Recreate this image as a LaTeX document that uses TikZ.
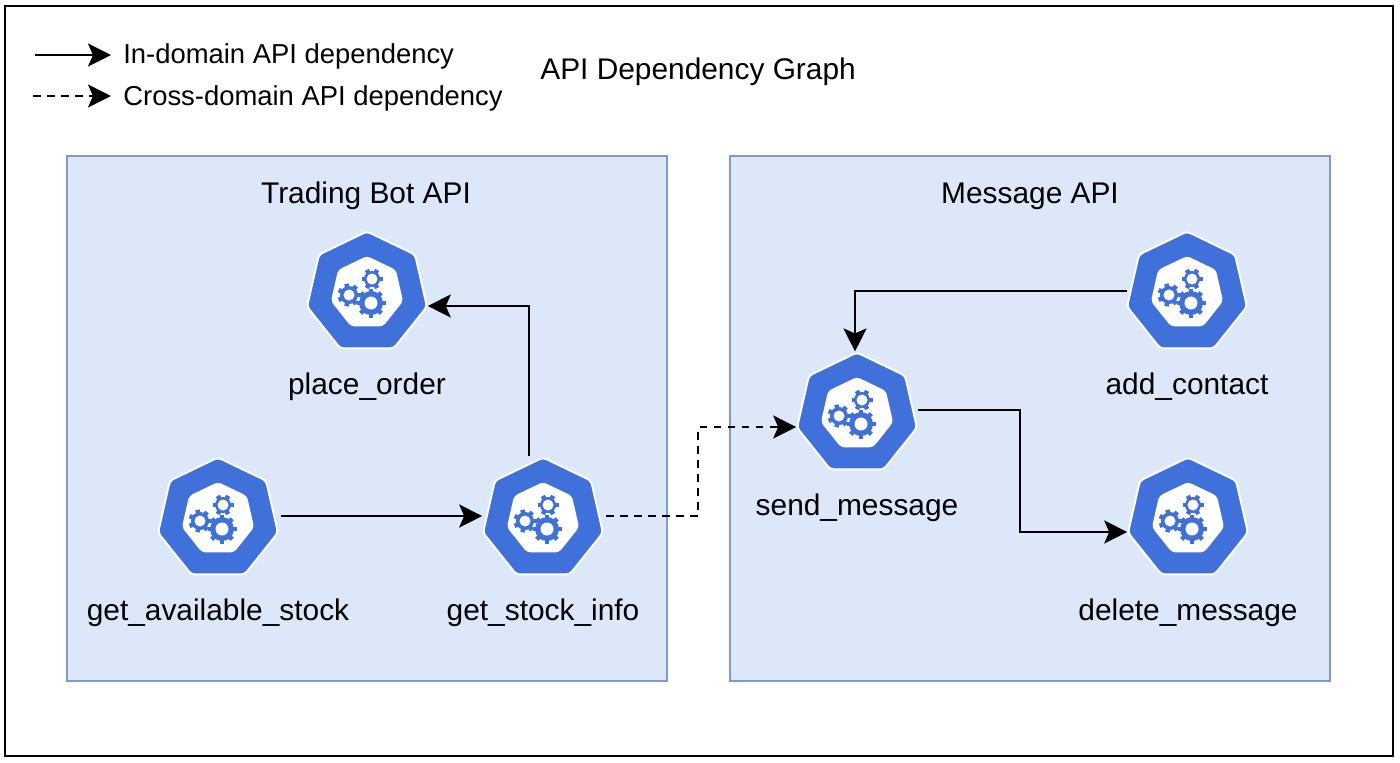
\documentclass[tikz,border=0pt]{standalone}
\usepackage{fontspec}
\setmainfont{Liberation Sans}
\usepackage{xcolor}
\usetikzlibrary{arrows.meta,calc,shapes.geometric}
\definecolor{apiblue}{HTML}{4070DA}
\definecolor{groupfill}{HTML}{DCE7F9}
\definecolor{groupline}{HTML}{7F9AC5}
\tikzset{
  apinode/.style={regular polygon,regular polygon sides=7,minimum size=2.46cm,inner sep=0pt,
    draw=white,line width=1.1pt,fill=apiblue,rounded corners=2pt},
  apitext/.style={font=\fontsize{17pt}{20pt}\selectfont,inner sep=0pt},
  legendtext/.style={font=\fontsize{15.6pt}{19pt}\selectfont,inner sep=0pt},
  apigroup/.style={draw=groupline,line width=1.2pt,fill=groupfill},
  apiflow/.style={-{Stealth[length=0.46cm,width=0.46cm,inset=0.1cm]},line width=1.3pt,black},
  apicross/.style={apiflow,dash pattern=on 4.4pt off 3.6pt},
  apigears/.pic={
    \fill[white,rounded corners=2pt] (-90:37) \foreach \a in {1,...,6} {-- (\a*51.43-90:37)} -- cycle;
    \foreach \gx/\gy/\gr/\gh/\gn in {4/10/12/6.5/8,-18/2/9/5.5/7,5/-14/8/5.5/6} {
      \fill[apiblue] (\gx,\gy) circle (\gr);
      \foreach \k in {1,...,\gn}
        \draw[apiblue,line width=0.09cm] (\gx,\gy) ++(\k*360/\gn:\gr-1) -- ++(\k*360/\gn:3.5);
      \fill[white] (\gx,\gy) circle (\gh);
    }
  }
}
\begin{document}
\begin{tikzpicture}[x=0.02cm,y=-0.02cm]
  \useasboundingbox (0,0) rectangle (1400,762);
  \draw[black,line width=1.2pt] (5,6) rectangle (1393,756);

  % legend
  \coordinate (solidfrom) at (35,55);
  \coordinate (solidto) at (111,55);
  \coordinate (dashfrom) at (33,96);
  \coordinate (dashto) at (111,96);
  \draw[apiflow] (solidfrom) -- (solidto);
  \draw[apicross] (dashfrom) -- (dashto);
  \node[legendtext,anchor=west] (solidlab) at (123,56) {In-domain API dependency};
  \node[legendtext,anchor=west] (dashlab) at (123,98) {Cross-domain API dependency};
  \node[apitext,anchor=west] (graphtitle) at (540,72) {API Dependency Graph};

  % domains
  \draw[apigroup] (67,156) rectangle (667,681);
  \draw[apigroup] (730,156) rectangle (1330,681);
  \node[apitext] (tradingtitle) at (366,196) {Trading Bot API};
  \node[apitext] (messagetitle) at (1030,196) {Message API};

  \foreach \n/\x/\y/\lab in {
     place/367/293/{place\_order},
     avail/218/519/{get\_available\_stock},
     stock/543/519/{get\_stock\_info},
     send/857/414/{send\_message},
     add/1187/293/{add\_contact},
     del/1188/519/{delete\_message}}
  { \node[apinode] (\n) at (\x,\y) {};
    \pic at (\n) {apigears};
    \node[apitext] (\n lab) at (\x,\y+94) {\lab}; }

  % in-domain
  \draw[apiflow] ($(avail.east)+(5,-3)$) -- ($(stock.west)+(-3,-3)$);
  \draw[apiflow] ($(stock.north)+(-14,0)$) |- ($(place.east)+(3,13)$);
  \draw[apiflow] ($(add.west)+(-2,-2)$) -| ($(send.north)+(-2,0)$);
  \coordinate (sendout) at ($(send.east)+(3,-4)$);
  \coordinate (delin) at ($(del.west)+(-3,13)$);
  \coordinate (bendright) at (1020,0);
  \draw[apiflow] (sendout) -- (bendright |- sendout) -- (bendright |- delin) -- (delin);

  % cross-domain
  \coordinate (stockout) at ($(stock.east)+(5,-3)$);
  \coordinate (sendin) at ($(send.west)+(-3,13)$);
  \coordinate (bendcross) at (698,0);
  \draw[apicross] (stockout) -- (bendcross |- stockout) -- (bendcross |- sendin) -- (sendin);
\end{tikzpicture}
\end{document}
